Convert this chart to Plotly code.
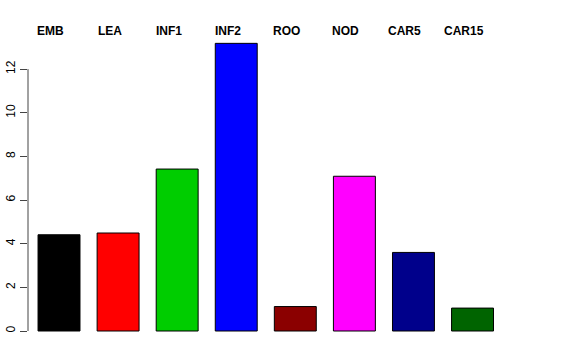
import plotly.graph_objects as go

categories = ["EMB", "LEA", "INF1", "INF2", "ROO", "NOD", "CAR5", "CAR15"]
values = [4.41, 4.49, 7.42, 13.18, 1.12, 7.09, 3.60, 1.05]
colors = ["#000000", "#FF0000", "#00CD00", "#0000FF", "#8B0000", "#FF00FF", "#00008B", "#006400"]
y_ticks = [0, 2, 4, 6, 8, 10, 12]

idx = list(range(len(categories)))

fig = go.Figure()
fig.add_trace(go.Bar(
    x=idx, y=values,
    marker=dict(color=colors, line=dict(color="#000000", width=1)),
    hoverinfo="skip",
))

# Labels across the top, slightly left of each bar centre
label_shift = -0.144
for i, c in enumerate(categories):
    fig.add_annotation(
        x=i + label_shift, xref="x",
        y=1.0048, yref="paper", yanchor="middle", xanchor="center",
        text="<b>%s</b>" % c, showarrow=False,
        font=dict(family="Liberation Sans, Arial, sans-serif", size=12, color="#000000"),
    )

# R-style axis line spanning only the tick range
fig.add_shape(type="line", xref="paper", x0=0, x1=0, yref="y",
              y0=min(y_ticks), y1=max(y_ticks), line=dict(color="#444444", width=1))

fig.update_layout(
    width=576, height=360,
    margin=dict(l=28, r=36, t=32, b=18, autoexpand=False),
    plot_bgcolor="white", paper_bgcolor="white",
    showlegend=False,
    bargap=0.29,
    font=dict(family="Liberation Sans, Arial, sans-serif", size=12, color="#000000"),
    xaxis=dict(range=[-0.525, 8.142], showticklabels=False, showline=False,
               showgrid=False, zeroline=False, ticks="", automargin=False),
    yaxis=dict(range=[-0.504, 13.70], tickvals=y_ticks, ticktext=[str(t) for t in y_ticks],
               ticks="outside", ticklen=7, tickcolor="#444444", tickwidth=1,
               tickangle=-90, showline=False, showgrid=False, zeroline=False,
               automargin=False, tickfont=dict(size=12)),
)

fig.write_html("out.html", config={"displayModeBar": False, "staticPlot": True},
               post_script="document.body.style.margin='0px';document.body.style.overflow='hidden';")
